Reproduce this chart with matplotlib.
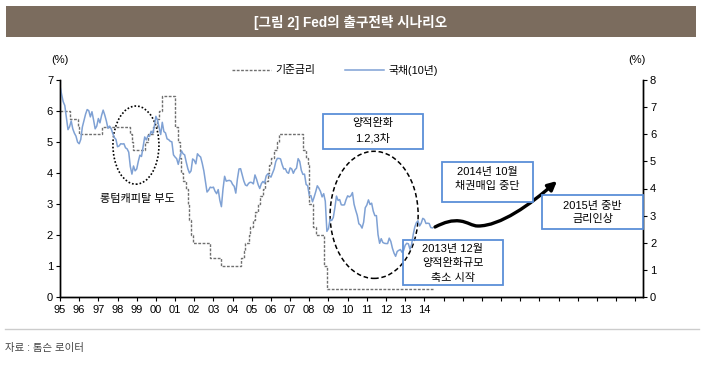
import numpy as np
import matplotlib
matplotlib.use('Agg')
import matplotlib.pyplot as plt
from matplotlib.patches import Ellipse, Rectangle, FancyArrowPatch
from matplotlib.path import Path

plt.rcParams['font.family'] = ['Liberation Sans', 'Noto Sans CJK KR', 'DejaVu Sans']

# 기준금리 (Fed funds target) : change dates (decimal year) and levels
fed_dates = [1995.00, 1995.50, 1995.92, 1996.00, 1997.17, 1998.67, 1998.75, 1998.83,
             1999.42, 1999.58, 1999.83, 2000.08, 2000.17, 2000.33, 2001.00, 2001.17,
             2001.25, 2001.33, 2001.42, 2001.58, 2001.67, 2001.75, 2001.83, 2001.92,
             2002.83, 2003.42, 2004.42, 2004.58, 2004.67, 2004.83, 2004.92, 2005.08,
             2005.17, 2005.33, 2005.42, 2005.58, 2005.67, 2005.83, 2005.92, 2006.00,
             2006.17, 2006.33, 2006.42, 2007.67, 2007.83, 2007.92, 2008.00, 2008.17,
             2008.33, 2008.75, 2008.92, 2014.45]
fed_rate = [6.00, 5.75, 5.50, 5.25, 5.50, 5.25, 5.00, 4.75,
            5.00, 5.25, 5.50, 5.75, 6.00, 6.50, 5.50, 5.00,
            4.50, 4.00, 3.75, 3.50, 3.00, 2.50, 2.00, 1.75,
            1.25, 1.00, 1.25, 1.50, 1.75, 2.00, 2.25, 2.50,
            2.75, 3.00, 3.25, 3.50, 3.75, 4.00, 4.25, 4.50,
            4.75, 5.00, 5.25, 4.75, 4.50, 4.25, 3.00, 2.25,
            2.00, 1.00, 0.25, 0.25]

# 국채(10년) monthly, Jan 1995 - Jun 2014 (right axis)
ust10 = [7.78, 7.47, 7.20, 7.06, 6.63, 6.17, 6.28, 6.49, 6.20, 6.04, 5.93, 5.71,
         5.65, 5.81, 6.27, 6.51, 6.74, 6.91, 6.87, 6.64, 6.83, 6.53, 6.20, 6.30,
         6.58, 6.42, 6.69, 6.89, 6.71, 6.49, 6.22, 6.30, 6.21, 6.03, 5.88, 5.81,
         5.54, 5.57, 5.65, 5.64, 5.65, 5.50, 5.46, 5.34, 4.81, 4.53, 4.83, 4.65,
         4.72, 5.00, 5.23, 5.18, 5.54, 5.90, 5.79, 5.94, 5.92, 6.11, 6.03, 6.28,
         6.66, 6.52, 6.26, 5.99, 6.44, 6.10, 6.05, 5.83, 5.80, 5.74, 5.72, 5.24,
         5.16, 5.10, 4.89, 5.14, 5.39, 5.28, 5.24, 4.97, 4.73, 4.57, 4.65, 5.09,
         5.04, 4.91, 5.28, 5.21, 5.16, 4.93, 4.65, 4.26, 3.87, 3.94, 4.05, 4.03,
         4.05, 3.90, 3.81, 3.96, 3.57, 3.33, 3.98, 4.45, 4.27, 4.29, 4.30, 4.27,
         4.15, 4.08, 3.83, 4.35, 4.72, 4.73, 4.50, 4.28, 4.13, 4.10, 4.19, 4.23,
         4.22, 4.17, 4.50, 4.34, 4.14, 4.00, 4.18, 4.26, 4.20, 4.46, 4.54, 4.47,
         4.42, 4.57, 4.72, 4.99, 5.11, 5.11, 5.09, 4.88, 4.72, 4.73, 4.60, 4.56,
         4.76, 4.72, 4.56, 4.69, 4.75, 5.10, 5.00, 4.67, 4.52, 4.53, 4.15, 4.10,
         3.74, 3.74, 3.51, 3.68, 3.88, 4.10, 4.01, 3.89, 3.69, 3.81, 3.53, 2.42,
         2.52, 2.87, 2.82, 2.93, 3.29, 3.72, 3.56, 3.59, 3.40, 3.39, 3.40, 3.59,
         3.73, 3.69, 3.73, 3.85, 3.42, 3.20, 3.01, 2.70, 2.65, 2.54, 2.76, 3.29,
         3.39, 3.58, 3.41, 3.46, 3.17, 3.00, 3.00, 2.30, 1.98, 2.15, 2.01, 1.98,
         1.97, 1.97, 2.17, 2.05, 1.80, 1.62, 1.50, 1.68, 1.72, 1.75, 1.65, 1.72,
         1.91, 1.98, 1.96, 1.76, 1.93, 2.30, 2.58, 2.74, 2.81, 2.62, 2.72, 2.90,
         2.86, 2.71, 2.72, 2.71, 2.56, 2.55]
ust_dates = 1995 + np.arange(len(ust10)) / 12

year_ticks = list(range(1995, 2026))
year_labels = ['95', '96', '97', '98', '99', '00', '01', '02', '03', '04',
               '05', '06', '07', '08', '09', '10', '11', '12', '13', '14']

W, H = 704, 365
fig = plt.figure(figsize=(W / 100, H / 100), dpi=100)


def fx(px):
    return px / W


def fy(py):
    return 1 - py / H


# title bar
fig.patches.append(Rectangle((fx(6), fy(37)), fx(690), 31 / H, transform=fig.transFigure,
                             facecolor='#7b6c5e', edgecolor='none'))
fig.text(fx(351), fy(22), '[그림 2] Fed의 출구전략 시나리오', color='white',
         fontsize=9.8, fontweight='bold', ha='center', va='center')

ax = fig.add_axes([fx(60), fy(297), fx(583), 217 / H])
ax2 = ax.twinx()

l1, = ax.step(fed_dates, fed_rate, where='post', color='#707070', lw=1.0,
              dashes=(2.0, 1.1), label='기준금리')
l2, = ax2.plot(ust_dates, ust10, color='#7fa1d4', lw=1.1, label='국채(10년)')

ax.set_xlim(1995, 2025.4)
ax.set_ylim(0, 7)
ax2.set_ylim(0, 8)
ax.set_yticks(range(0, 8))
ax2.set_yticks(range(0, 9))
ax.set_xticks(year_ticks)
ax.set_xticklabels(year_labels + [''] * (len(year_ticks) - len(year_labels)))

for a in (ax, ax2):
    a.spines['top'].set_visible(False)
    for s in ('left', 'right', 'bottom'):
        a.spines[s].set_linewidth(1.0)
        a.spines[s].set_color('black')
    a.tick_params(labelsize=8, length=3, width=0.8, pad=2)
ax.tick_params(axis='x', pad=3)

fig.text(fx(60), fy(60), '(%)', fontsize=8, ha='center', va='center')
fig.text(fx(637), fy(60), '(%)', fontsize=8, ha='center', va='center')

ax.legend(handles=[l1, l2], loc='center', bbox_to_anchor=(fx(335), fy(70)),
          bbox_transform=fig.transFigure, ncol=2, frameon=False, fontsize=7.8,
          handlelength=3.6, handletextpad=0.4, columnspacing=2.8)

# ellipses
ax.add_patch(Ellipse((1998.96, 4.90), 2.40, 2.52, fill=False, ls=(0, (1, 1.2)),
                     lw=1.2, edgecolor='black'))
ax.add_patch(Ellipse((2011.38, 2.65), 4.59, 4.10, fill=False, ls=(0, (3, 1.8)),
                     lw=1.1, edgecolor='black'))
fig.text(fx(137), fy(199), '롱텀캐피탈 부도', fontsize=8, ha='center', va='center')

# boxes
boxes = [((323, 114, 423, 149), ['양적완화', '1.2,3차'], 'white'),
         ((403, 240, 503, 285), ['2013년 12월', '양적완화규모', '축소 시작'], 'none'),
         ((442, 162, 533, 202), ['2014년 10월', '채권매입 중단'], 'white'),
         ((542, 195, 643, 229), ['2015년 중반', '금리인상'], 'white')]
line_ys = [[123, 138], [249, 263, 278], [172, 186], [206, 219]]
for (box, lines, fc), ys in zip(boxes, line_ys):
    x0, y0, x1, y1 = box
    fig.patches.append(Rectangle((fx(x0), fy(y1)), fx(x1 - x0), (y1 - y0) / H,
                                 transform=fig.transFigure, facecolor=fc,
                                 edgecolor='#5b8fd8', lw=1.3, zorder=3))
    for t, yy in zip(lines, ys):
        fig.text(fx((x0 + x1) / 2), fy(yy), t, fontsize=8, ha='center',
                 va='center', zorder=4)

# scenario arrow
verts = [(435, 227), (445, 222), (452, 220), (460, 221),
         (468, 222), (472, 226), (478, 226),
         (500, 226), (530, 205), (557, 181)]
codes = [Path.MOVETO] + [Path.CURVE4] * 9
path = Path([(fx(x), fy(y)) for x, y in verts], codes)
fig.patches.append(FancyArrowPatch(path=path, arrowstyle='-|>', mutation_scale=13,
                                   lw=2.4, color='black', transform=fig.transFigure))

# footer
fig.add_artist(plt.Line2D([fx(5), fx(699)], [fy(329), fy(329)], color='#cccccc',
                          lw=1.0, transform=fig.transFigure))
fig.text(fx(5), fy(348), '자료 : 톰슨 로이터', fontsize=7.5, color='#444444',
         ha='left', va='center')

fig.savefig('out.png', dpi=100)
